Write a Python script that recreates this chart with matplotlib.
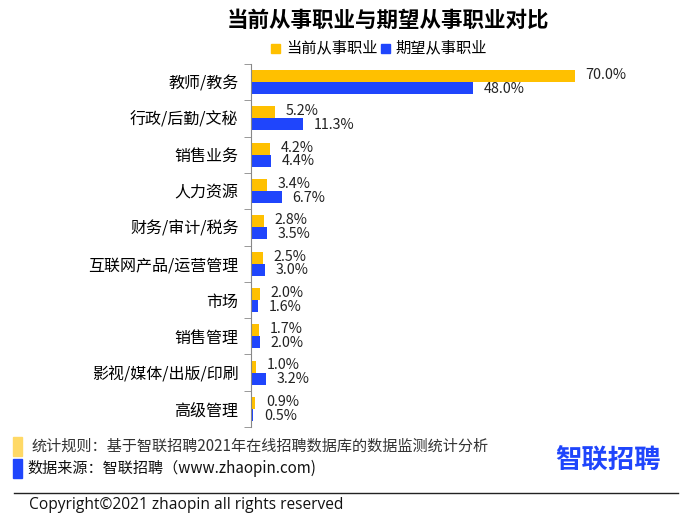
import numpy as np
import matplotlib.pyplot as plt
from matplotlib.patches import Rectangle

plt.rcParams['font.family'] = ['Noto Sans CJK SC', 'DejaVu Sans']

categories = ['教师/教务', '行政/后勤/文秘', '销售业务', '人力资源', '财务/审计/税务',
              '互联网产品/运营管理', '市场', '销售管理', '影视/媒体/出版/印刷', '高级管理']
current = [70.0, 5.2, 4.2, 3.4, 2.8, 2.5, 2.0, 1.7, 1.0, 0.9]
expected = [48.0, 11.3, 4.4, 6.7, 3.5, 3.0, 1.6, 2.0, 3.2, 0.5]

yellow = '#FFC000'
blue = '#1F45FC'

fig = plt.figure(figsize=(6.92, 5.30), dpi=100)
ax = fig.add_axes([251 / 692, 1 - 427 / 530, 370 / 692, 363 / 530])

y = np.arange(len(categories))
h = 0.33
ax.barh(y - h / 2, current, height=h, color=yellow)
ax.barh(y + h / 2, expected, height=h, color=blue)

for i in range(len(categories)):
    ax.text(current[i] + 2.3, y[i] - h / 2 - 0.03, f'{current[i]:.1f}%', va='center', ha='left',
            fontsize=10.3, color='#222222')
    ax.text(expected[i] + 2.3, y[i] + h / 2 + 0.02, f'{expected[i]:.1f}%', va='center', ha='left',
            fontsize=10.3, color='#222222')

ax.set_xlim(0, 80)
ax.set_ylim(len(categories) - 0.5, -0.5)
ax.set_yticks(y)
ax.set_yticklabels(categories, fontsize=11.5)
ax.set_yticks(np.arange(-0.5, len(categories)), minor=True)
ax.tick_params(axis='y', which='major', length=0, pad=9)
ax.tick_params(axis='y', which='minor', length=5, color='#888888', direction='out')
ax.set_xticks([])
for s in ['top', 'right', 'bottom']:
    ax.spines[s].set_visible(False)
ax.spines['left'].set_color('#888888')

fig.text(388 / 692, 1 - 20 / 530, '当前从事职业与期望从事职业对比', ha='center', va='center',
         fontsize=15.5, fontweight='bold')

# legend
fig.patches.append(Rectangle((271 / 692, 1 - 53 / 530), 9 / 692, 9 / 530, color=yellow,
                             transform=fig.transFigure))
fig.text(286 / 692, 1 - 48 / 530, '当前从事职业', va='center', fontsize=11)
fig.patches.append(Rectangle((381 / 692, 1 - 53 / 530), 9 / 692, 9 / 530, color=blue,
                             transform=fig.transFigure))
fig.text(395 / 692, 1 - 48 / 530, '期望从事职业', va='center', fontsize=11)

# footer
fig.patches.append(Rectangle((13 / 692, 1 - 456 / 530), 9 / 692, 19 / 530, color='#FFD966',
                             transform=fig.transFigure))
fig.text(32 / 692, 1 - 446 / 530, '统计规则：基于智联招聘2021年在线招聘数据库的数据监测统计分析',
         va='center', fontsize=10.9, color='#333333')
fig.patches.append(Rectangle((13 / 692, 1 - 478 / 530), 9 / 692, 19 / 530, color='#1F45FC',
                             transform=fig.transFigure))
fig.text(27 / 692, 1 - 468 / 530, '数据来源：智联招聘（www.zhaopin.com)', va='center',
         fontsize=10.9, color='#111111')
fig.text(608 / 692, 1 - 461 / 530, '智联招聘', ha='center', va='center', fontsize=19,
         fontweight='bold', color='#1F45FC')
fig.add_artist(plt.Line2D([14 / 692, 678 / 692], [1 - 493 / 530, 1 - 493 / 530],
                          color='#222222', lw=1, transform=fig.transFigure))
fig.text(29 / 692, 1 - 505 / 530, 'Copyright©2021 zhaopin all rights reserved', va='center',
         fontsize=11.2, color='#111111', family=['Open Sans', 'DejaVu Sans'])

fig.savefig('out.png', dpi=100)
